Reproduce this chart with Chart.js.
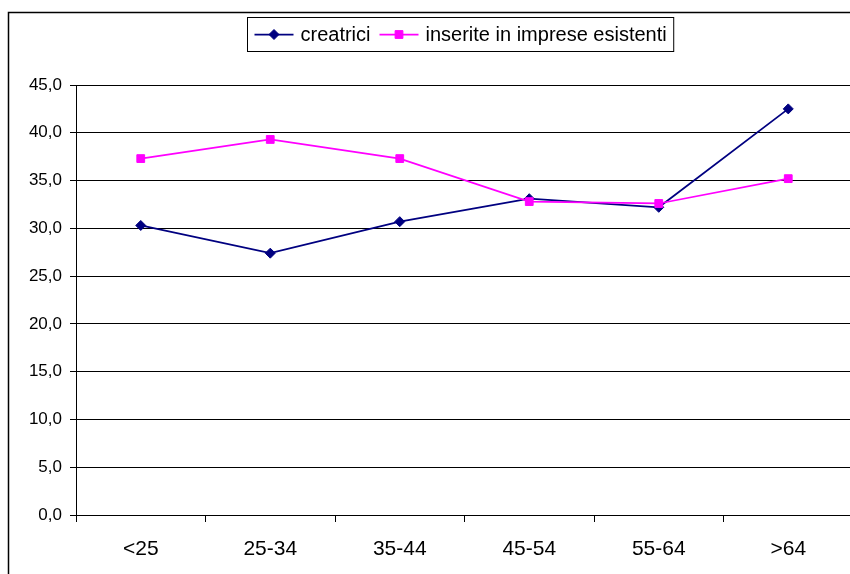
<!DOCTYPE html>
<html>
<head>
<meta charset="utf-8">
<style>
  html, body { margin: 0; padding: 0; background: #fff; overflow: hidden; width: 850px; height: 574px; }
  #wrap { position: absolute; left: 0; top: 0; width: 870px; height: 590px; }
</style>
<script src="https://cdn.jsdelivr.net/npm/chart.js@4/dist/chart.umd.min.js"></script>
</head>
<body>
<div id="wrap"><canvas id="c" width="870" height="590"></canvas></div>
<script>
const categories = ['<25', '25-34', '35-44', '45-54', '55-64', '>64'];
const creatrici = [30.3, 27.4, 30.7, 33.1, 32.2, 42.5];
const inseriteInImpreseEsistenti = [37.3, 39.3, 37.3, 32.8, 32.6, 35.2];
const yTicks = [0, 5, 10, 15, 20, 25, 30, 35, 40, 45];

const FONT = '"Liberation Sans", Arial, sans-serif';

// Outer frame and legend box with line + marker samples
const framePlugin = {
  id: 'frame',
  beforeDraw(chart) {
    const ctx = chart.ctx;
    ctx.save();
    ctx.fillStyle = '#fff';
    ctx.fillRect(0, 0, chart.width, chart.height);
    ctx.strokeStyle = '#000';
    ctx.lineWidth = 1.5;
    ctx.strokeRect(8.5, 12.5, 2000, 2000);
    ctx.restore();
  },
  afterDraw(chart) {
    const ctx = chart.ctx;
    const ds = chart.data.datasets;
    ctx.save();
    ctx.font = '20px ' + FONT;
    const lineLen = 39, gapText = 7, gapItem = 9, pad = 7;
    const widths = ds.map(d => ctx.measureText(d.label).width);
    let total = pad * 2;
    widths.forEach((w, i) => { total += lineLen + gapText + w + (i < ds.length - 1 ? gapItem : 0); });
    const left = 247.5, top = 17.5, h = 34;
    ctx.fillStyle = '#fff';
    ctx.fillRect(left, top, total, h);
    ctx.strokeStyle = '#000';
    ctx.lineWidth = 1;
    ctx.strokeRect(left, top, total, h);
    const cy = top + h / 2;
    let x = left + pad;
    ds.forEach((d, i) => {
      ctx.strokeStyle = d.borderColor;
      ctx.lineWidth = 1.75;
      ctx.beginPath();
      ctx.moveTo(x, cy);
      ctx.lineTo(x + lineLen, cy);
      ctx.stroke();
      ctx.fillStyle = d.pointBackgroundColor;
      ctx.strokeStyle = d.pointBorderColor;
      ctx.lineWidth = 1;
      Chart.helpers.drawPoint(ctx, {
        pointStyle: d.pointStyle, rotation: 0, radius: d.pointRadius, borderWidth: 1
      }, x + lineLen / 2, cy);
      ctx.fillStyle = '#000';
      ctx.textBaseline = 'middle';
      ctx.textAlign = 'left';
      ctx.fillText(d.label, x + lineLen + gapText, cy + 1);
      x += lineLen + gapText + widths[i] + gapItem;
    });
    ctx.restore();
  }
};

new Chart(document.getElementById('c'), {
  type: 'line',
  data: {
    labels: categories,
    datasets: [
      {
        label: 'creatrici',
        data: creatrici,
        borderColor: '#000080',
        backgroundColor: '#000080',
        pointBackgroundColor: '#000080',
        pointBorderColor: '#000080',
        pointStyle: 'rectRot',
        pointRadius: 5,
        pointBorderWidth: 1,
        borderWidth: 1.75,
        tension: 0,
        order: 2
      },
      {
        label: 'inserite in imprese esistenti',
        data: inseriteInImpreseEsistenti,
        borderColor: '#FF00FF',
        backgroundColor: '#FF00FF',
        pointBackgroundColor: '#FF00FF',
        pointBorderColor: '#FF00FF',
        pointStyle: 'rect',
        pointRadius: 5.5,
        pointBorderWidth: 1,
        borderWidth: 1.75,
        tension: 0,
        order: 1
      }
    ]
  },
  options: {
    responsive: false,
    animation: false,
    layout: { padding: { top: 85, right: 17, left: 0, bottom: 0 } },
    plugins: { legend: { display: false }, tooltip: { enabled: false } },
    scales: {
      x: {
        offset: true,
        afterFit(scale) { scale.height = 75; },
        grid: {
          offset: true,
          drawOnChartArea: false,
          drawTicks: true,
          tickLength: 7,
          color: '#000',
          lineWidth: 1
        },
        border: { display: true, color: '#000', width: 1 },
        ticks: {
          color: '#000',
          font: { family: FONT, size: 21 },
          padding: 15,
          maxRotation: 0,
          autoSkip: false
        }
      },
      y: {
        min: 0,
        max: 45,
        afterFit(scale) { scale.width = 76; },
        afterBuildTicks(scale) { scale.ticks = yTicks.map(v => ({ value: v })); },
        grid: {
          color: '#000',
          lineWidth: 1,
          drawTicks: true,
          tickLength: 6
        },
        border: { display: true, color: '#000', width: 1 },
        ticks: {
          color: '#000',
          font: { family: FONT, size: 17 },
          padding: 8,
          callback: v => v.toFixed(1).replace('.', ',')
        }
      }
    }
  },
  plugins: [framePlugin]
});
</script>
</body>
</html>
